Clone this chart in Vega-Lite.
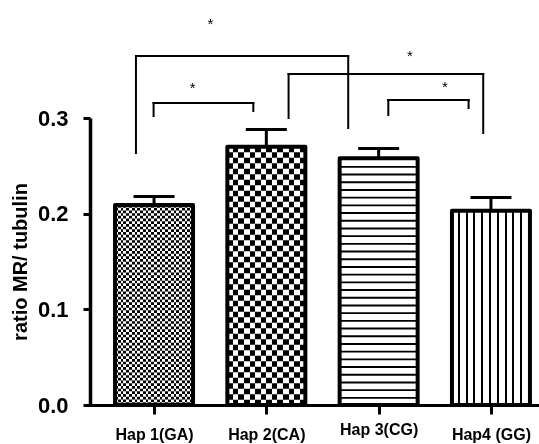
{
  "$schema": "https://vega.github.io/schema/vega-lite/v6.json",
  "width": 455,
  "height": 287,
  "autosize": {"type": "none"},
  "padding": {"left": 84, "top": 118, "right": 0, "bottom": 39},
  "background": "white",
  "config": {"view": {"stroke": null}, "font": "Liberation Sans"},
  "resolve": {"axis": {"x": "independent", "y": "independent"}},
  "datasets": {
    "bars": [
      {"hap": "Hap 1(GA)", "i": 1, "mean": 0.209, "hi": 0.218},
      {"hap": "Hap 2(CA)", "i": 2, "mean": 0.270, "hi": 0.288},
      {"hap": "Hap 3(CG)", "i": 3, "mean": 0.258, "hi": 0.268},
      {"hap": "Hap4 (GG)", "i": 4, "mean": 0.203, "hi": 0.217}
    ],
    "segs": [
      {"x1": 0.839, "x2": 2.729, "y1": 0.3648, "y2": 0.3648},
      {"x1": 0.839, "x2": 0.839, "y1": 0.3648, "y2": 0.2634},
      {"x1": 2.729, "x2": 2.729, "y1": 0.3648, "y2": 0.2895},
      {"x1": 0.996, "x2": 1.884, "y1": 0.3157, "y2": 0.3157},
      {"x1": 0.996, "x2": 0.996, "y1": 0.3157, "y2": 0.3021},
      {"x1": 1.884, "x2": 1.884, "y1": 0.3157, "y2": 0.3073},
      {"x1": 2.198, "x2": 3.931, "y1": 0.3460, "y2": 0.3460},
      {"x1": 2.198, "x2": 2.198, "y1": 0.3460, "y2": 0.3000},
      {"x1": 3.931, "x2": 3.931, "y1": 0.3460, "y2": 0.2843},
      {"x1": 3.086, "x2": 3.801, "y1": 0.3188, "y2": 0.3188},
      {"x1": 3.086, "x2": 3.086, "y1": 0.3188, "y2": 0.3031},
      {"x1": 3.801, "x2": 3.801, "y1": 0.3188, "y2": 0.3104}
    ],
    "stars": [
      {"x": 1.501, "y": 0.4024, "t": "*"},
      {"x": 3.278, "y": 0.369, "t": "*"},
      {"x": 1.344, "y": 0.3355, "t": "*"},
      {"x": 3.591, "y": 0.3366, "t": "*"}
    ]
  },
  "layer": [
    {
      "data": {"name": "bars"},
      "mark": {"type": "rule", "strokeWidth": 3, "color": "black"},
      "encoding": {
        "x": {
          "field": "i", "type": "quantitative",
          "scale": {"domain": [0.4209, 4.3833], "nice": false, "zero": false},
          "axis": {
            "values": [1, 2, 3, 4],
            "labelExpr": "['Hap 1(GA)','Hap 2(CA)','Hap 3(CG)','Hap4 (GG)'][datum.value-1]",
            "title": null, "grid": false,
            "domainColor": "black", "domainWidth": 3,
            "tickColor": "black", "tickWidth": 3, "tickSize": 9,
            "labelFont": "Liberation Sans", "labelFontSize": 16, "labelFontWeight": "bold",
            "labelColor": "black", "labelPadding": {"condition": {"test": "datum.value == 3", "value": 7}, "value": 12}, "labelFlush": false
          }
        },
        "y": {
          "field": "mean", "type": "quantitative",
          "scale": {"domain": [0, 0.3], "nice": false},
          "axis": {
            "values": [0, 0.1, 0.2, 0.3], "format": ".1f",
            "title": "ratio MR/ tubulin", "grid": false, "offset": -6,
            "domainColor": "black", "domainWidth": 3.5,
            "tickColor": "black", "tickWidth": 3, "tickSize": 7,
            "labelFont": "Liberation Sans", "labelFontSize": 22, "labelFontWeight": "bold",
            "labelColor": "black", "labelPadding": 15, "labelFlush": false,
            "titleFont": "Liberation Sans", "titleFontSize": 20, "titleFontWeight": "bold",
            "titleColor": "black", "titlePadding": 7
          }
        },
        "y2": {"field": "hi"}
      }
    },
    {
      "data": {"name": "bars"},
      "mark": {"type": "tick", "orient": "horizontal", "size": 41, "thickness": 3, "color": "black", "opacity": 1},
      "encoding": {
        "x": {"field": "i", "type": "quantitative", "axis": null},
        "y": {"field": "hi", "type": "quantitative", "axis": null}
      }
    },
    {
      "data": {"name": "bars"},
      "transform": [{"filter": "datum.i == 1"}],
      "mark": {"type": "bar", "width": 78, "fill": {"gradient": "linear", "x1": 0, "y1": 0, "x2": 1, "y2": 0, "stops": [
        {"offset": 0, "color": "black"}, {"offset": 0.0357, "color": "black"}, {"offset": 0.0357, "color": "white"}, {"offset": 0.0714, "color": "white"},
        {"offset": 0.0714, "color": "black"}, {"offset": 0.1071, "color": "black"}, {"offset": 0.1071, "color": "white"}, {"offset": 0.1429, "color": "white"},
        {"offset": 0.1429, "color": "black"}, {"offset": 0.1786, "color": "black"}, {"offset": 0.1786, "color": "white"}, {"offset": 0.2143, "color": "white"},
        {"offset": 0.2143, "color": "black"}, {"offset": 0.25, "color": "black"}, {"offset": 0.25, "color": "white"}, {"offset": 0.2857, "color": "white"},
        {"offset": 0.2857, "color": "black"}, {"offset": 0.3214, "color": "black"}, {"offset": 0.3214, "color": "white"}, {"offset": 0.3571, "color": "white"},
        {"offset": 0.3571, "color": "black"}, {"offset": 0.3929, "color": "black"}, {"offset": 0.3929, "color": "white"}, {"offset": 0.4286, "color": "white"},
        {"offset": 0.4286, "color": "black"}, {"offset": 0.4643, "color": "black"}, {"offset": 0.4643, "color": "white"}, {"offset": 0.5, "color": "white"},
        {"offset": 0.5, "color": "black"}, {"offset": 0.5357, "color": "black"}, {"offset": 0.5357, "color": "white"}, {"offset": 0.5714, "color": "white"},
        {"offset": 0.5714, "color": "black"}, {"offset": 0.6071, "color": "black"}, {"offset": 0.6071, "color": "white"}, {"offset": 0.6429, "color": "white"},
        {"offset": 0.6429, "color": "black"}, {"offset": 0.6786, "color": "black"}, {"offset": 0.6786, "color": "white"}, {"offset": 0.7143, "color": "white"},
        {"offset": 0.7143, "color": "black"}, {"offset": 0.75, "color": "black"}, {"offset": 0.75, "color": "white"}, {"offset": 0.7857, "color": "white"},
        {"offset": 0.7857, "color": "black"}, {"offset": 0.8214, "color": "black"}, {"offset": 0.8214, "color": "white"}, {"offset": 0.8571, "color": "white"},
        {"offset": 0.8571, "color": "black"}, {"offset": 0.8929, "color": "black"}, {"offset": 0.8929, "color": "white"}, {"offset": 0.9286, "color": "white"},
        {"offset": 0.9286, "color": "black"}, {"offset": 0.9643, "color": "black"}, {"offset": 0.9643, "color": "white"}, {"offset": 1, "color": "white"}
      ]}},
      "encoding": {
        "x": {"field": "i", "type": "quantitative", "axis": null},
        "y": {"field": "mean", "type": "quantitative", "axis": null}
      }
    },
    {
      "data": {"name": "bars"},
      "transform": [{"filter": "datum.i == 2"}],
      "mark": {"type": "bar", "width": 78, "fill": {"gradient": "linear", "x1": 0, "y1": 0, "x2": 1, "y2": 0, "stops": [
        {"offset": 0, "color": "black"}, {"offset": 0.0714, "color": "black"}, {"offset": 0.0714, "color": "white"}, {"offset": 0.1429, "color": "white"},
        {"offset": 0.1429, "color": "black"}, {"offset": 0.2143, "color": "black"}, {"offset": 0.2143, "color": "white"}, {"offset": 0.2857, "color": "white"},
        {"offset": 0.2857, "color": "black"}, {"offset": 0.3571, "color": "black"}, {"offset": 0.3571, "color": "white"}, {"offset": 0.4286, "color": "white"},
        {"offset": 0.4286, "color": "black"}, {"offset": 0.5, "color": "black"}, {"offset": 0.5, "color": "white"}, {"offset": 0.5714, "color": "white"},
        {"offset": 0.5714, "color": "black"}, {"offset": 0.6429, "color": "black"}, {"offset": 0.6429, "color": "white"}, {"offset": 0.7143, "color": "white"},
        {"offset": 0.7143, "color": "black"}, {"offset": 0.7857, "color": "black"}, {"offset": 0.7857, "color": "white"}, {"offset": 0.8571, "color": "white"},
        {"offset": 0.8571, "color": "black"}, {"offset": 0.9286, "color": "black"}, {"offset": 0.9286, "color": "white"}, {"offset": 1, "color": "white"}
      ]}},
      "encoding": {
        "x": {"field": "i", "type": "quantitative", "axis": null},
        "y": {"field": "mean", "type": "quantitative", "axis": null}
      }
    },
    {
      "data": {"name": "bars"},
      "transform": [{"filter": "datum.i == 3"}],
      "mark": {"type": "bar", "width": 78, "fill": "white"},
      "encoding": {
        "x": {"field": "i", "type": "quantitative", "axis": null},
        "y": {"field": "mean", "type": "quantitative", "axis": null}
      }
    },
    {
      "data": {"name": "bars"},
      "transform": [{"filter": "datum.i == 4"}],
      "mark": {"type": "bar", "width": 78, "fill": {"gradient": "linear", "x1": 0, "y1": 0, "x2": 1, "y2": 0, "stops": [
        {"offset": 0, "color": "white"}, {"offset": 0.075, "color": "white"}, {"offset": 0.075, "color": "black"}, {"offset": 0.1, "color": "black"},
        {"offset": 0.1, "color": "white"}, {"offset": 0.175, "color": "white"}, {"offset": 0.175, "color": "black"}, {"offset": 0.2, "color": "black"},
        {"offset": 0.2, "color": "white"}, {"offset": 0.275, "color": "white"}, {"offset": 0.275, "color": "black"}, {"offset": 0.3, "color": "black"},
        {"offset": 0.3, "color": "white"}, {"offset": 0.375, "color": "white"}, {"offset": 0.375, "color": "black"}, {"offset": 0.4, "color": "black"},
        {"offset": 0.4, "color": "white"}, {"offset": 0.475, "color": "white"}, {"offset": 0.475, "color": "black"}, {"offset": 0.5, "color": "black"},
        {"offset": 0.5, "color": "white"}, {"offset": 0.575, "color": "white"}, {"offset": 0.575, "color": "black"}, {"offset": 0.6, "color": "black"},
        {"offset": 0.6, "color": "white"}, {"offset": 0.675, "color": "white"}, {"offset": 0.675, "color": "black"}, {"offset": 0.7, "color": "black"},
        {"offset": 0.7, "color": "white"}, {"offset": 0.775, "color": "white"}, {"offset": 0.775, "color": "black"}, {"offset": 0.8, "color": "black"},
        {"offset": 0.8, "color": "white"}, {"offset": 0.875, "color": "white"}, {"offset": 0.875, "color": "black"}, {"offset": 0.9, "color": "black"},
        {"offset": 0.9, "color": "white"}, {"offset": 0.975, "color": "white"}, {"offset": 0.975, "color": "black"}, {"offset": 1, "color": "black"}
      ]}},
      "encoding": {
        "x": {"field": "i", "type": "quantitative", "axis": null},
        "y": {"field": "mean", "type": "quantitative", "axis": null}
      }
    },
    {
      "data": {"name": "bars"},
      "transform": [{"filter": "datum.i == 1"}],
      "mark": {"type": "rule", "strokeWidth": 78, "strokeCap": "butt", "strokeDash": [2.7, 2.7], "color": "white", "blend": "difference"},
      "encoding": {
        "x": {"field": "i", "type": "quantitative", "axis": null},
        "y": {"field": "mean", "type": "quantitative", "axis": null},
        "y2": {"datum": 0}
      }
    },
    {
      "data": {"name": "bars"},
      "transform": [{"filter": "datum.i == 2"}],
      "mark": {"type": "rule", "strokeWidth": 78, "strokeCap": "butt", "strokeDash": [5.5, 5.5], "color": "white", "blend": "difference"},
      "encoding": {
        "x": {"field": "i", "type": "quantitative", "axis": null},
        "y": {"field": "mean", "type": "quantitative", "axis": null},
        "y2": {"datum": 0}
      }
    },
    {
      "data": {"name": "bars"},
      "transform": [{"filter": "datum.i == 3"}],
      "mark": {"type": "rule", "strokeWidth": 78, "strokeCap": "butt", "strokeDash": [1.9, 5.8], "color": "black"},
      "encoding": {
        "x": {"field": "i", "type": "quantitative", "axis": null},
        "y": {"field": "mean", "type": "quantitative", "axis": null},
        "y2": {"datum": 0}
      }
    },
    {
      "data": {"name": "bars"},
      "mark": {"type": "bar", "width": 78, "fillOpacity": 0, "stroke": "black", "strokeWidth": 4, "strokeJoin": "round"},
      "encoding": {
        "x": {"field": "i", "type": "quantitative", "axis": null},
        "y": {"field": "mean", "type": "quantitative", "axis": null}
      }
    },
    {
      "data": {"name": "segs"},
      "mark": {"type": "rule", "strokeWidth": 2, "color": "black", "strokeCap": "square"},
      "encoding": {
        "x": {"field": "x1", "type": "quantitative", "axis": null},
        "x2": {"field": "x2"},
        "y": {"field": "y1", "type": "quantitative", "axis": null},
        "y2": {"field": "y2"}
      }
    },
    {
      "data": {"name": "stars"},
      "mark": {"type": "text", "font": "Liberation Sans", "fontSize": 15, "baseline": "middle", "dy": 4, "color": "black"},
      "encoding": {
        "x": {"field": "x", "type": "quantitative", "axis": null},
        "y": {"field": "y", "type": "quantitative", "axis": null},
        "text": {"field": "t"}
      }
    }
  ]
}
